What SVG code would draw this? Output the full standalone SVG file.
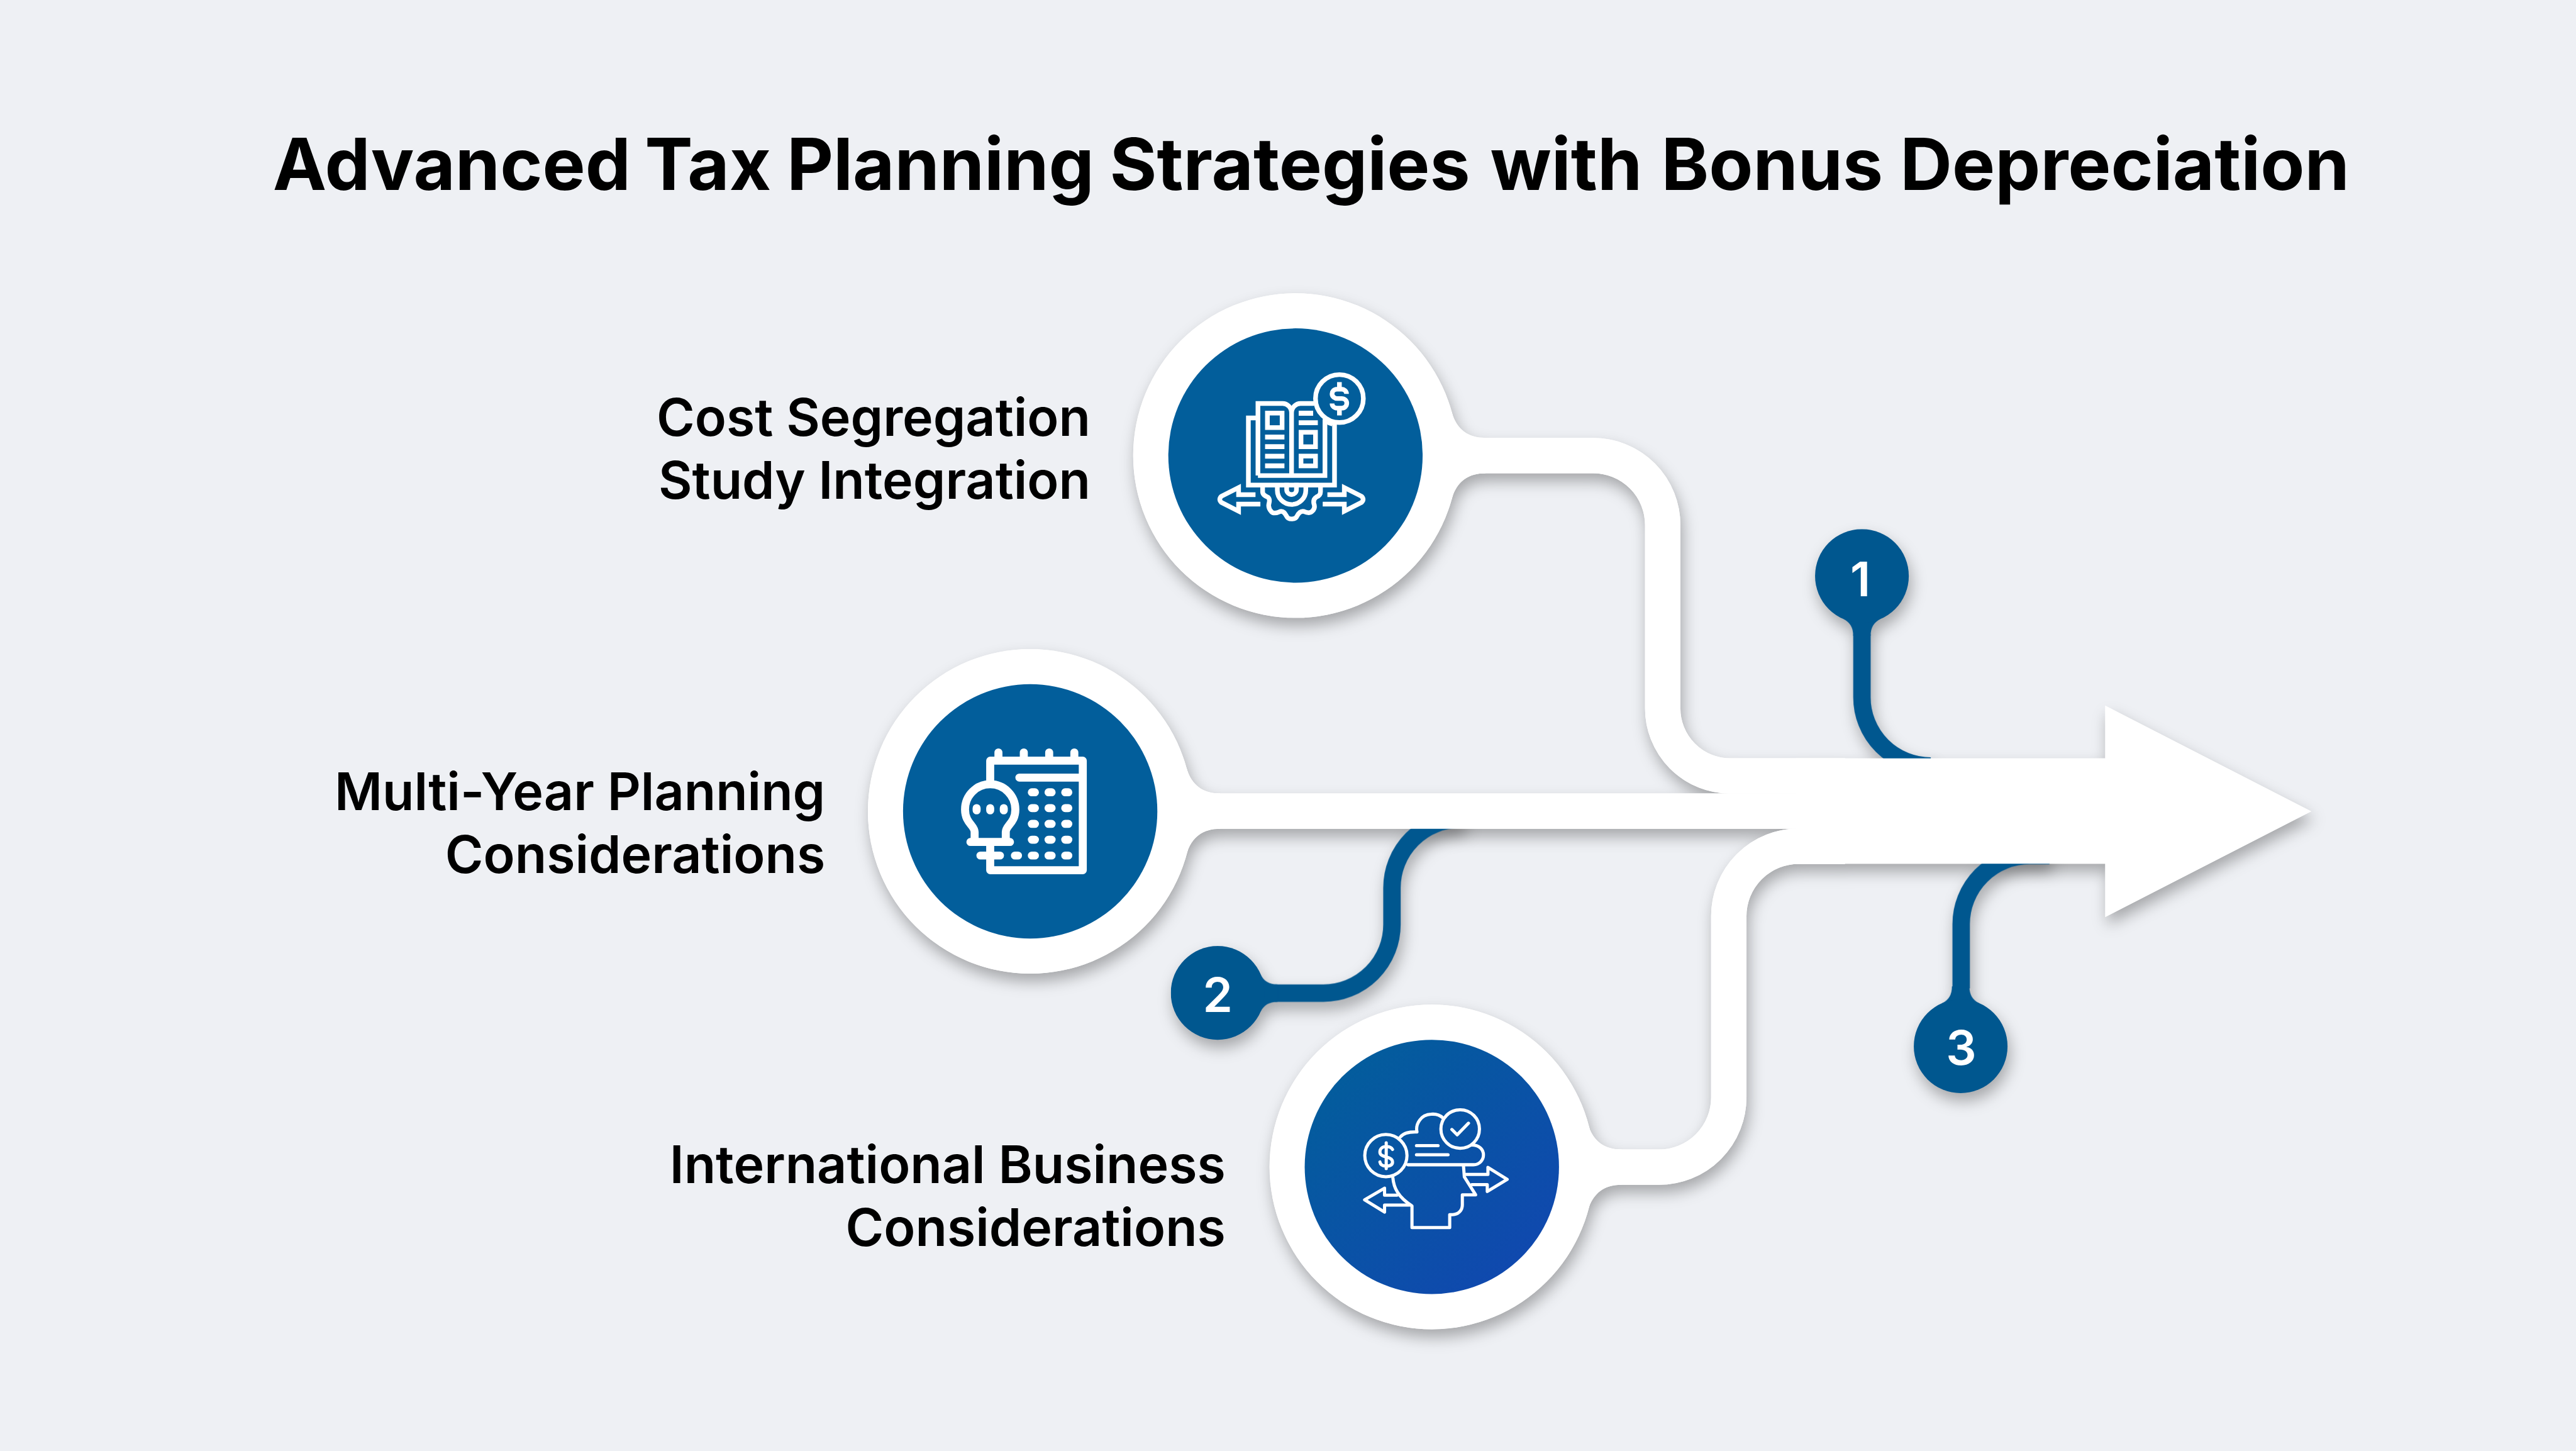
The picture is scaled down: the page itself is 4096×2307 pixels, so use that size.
<svg xmlns="http://www.w3.org/2000/svg" width="4096" height="2307" viewBox="0 0 4096 2307">
<style>
.t{font-family:Inter,"Liberation Sans",sans-serif;fill:#000}
.title{font-size:144.4px;font-weight:700}
.lab{font-size:104px;font-weight:600;text-anchor:end}
.num{font-family:Inter,"Liberation Sans",sans-serif;font-size:96px;font-weight:600;fill:#fff;text-anchor:middle}
.band{fill:none;stroke:#fff;stroke-width:71}
.w{fill:#fff}
.stem{fill:none;stroke:#00578F;stroke-width:35}
.b{fill:#00578F}
.disc{fill:#025E9B}
.ic{fill:none;stroke:#fff;stroke-width:21;stroke-linejoin:miter}
.ic2{fill:none;stroke:#fff;stroke-width:36;stroke-linecap:round;stroke-linejoin:round}
.ic3{fill:none;stroke:#fff;stroke-width:19;stroke-linecap:round;stroke-linejoin:round}
.bar{fill:#fff}
</style>
<defs>
<filter id="sh" filterUnits="userSpaceOnUse" x="0" y="0" width="5166" height="2910" color-interpolation-filters="sRGB">
<feDropShadow dx="5" dy="16" stdDeviation="15" flood-color="#000" flood-opacity="0.3"/>
</filter>
<linearGradient id="g3" x1="0.1" y1="0.05" x2="0.9" y2="0.95">
<stop offset="0" stop-color="#025E9B"/><stop offset="1" stop-color="#1147B0"/>
</linearGradient>
<path id="fil" d="M313 -88.5C323 -51.5 347 -35.5 381 -35.5V35.5C347 35.5 323 51.5 313 88.5Z"/>
<path id="sf" d="M-37 86C-24 93 -17.5 103 -17.5 120H17.5C17.5 103 24 93 37 86Z"/>
<g id="backbone">
<path class="band" d="M2598 913.5H3195A139.5 139.5 0 0 1 3334.5 1053V1420A135.5 135.5 0 0 0 3470 1556H3700"/>
<path class="band" d="M2066 1626.6H3700"/>
<path class="band" d="M3700 1697H3607A140 140 0 0 0 3467 1837V2200A140 140 0 0 1 3327 2340.5H2871"/>
<path class="w" d="M3468 1520.6H4222V1415L4635 1627L4222 1839V1732H3602V1520.6Z"/>
<use href="#fil" class="w" x="2598" y="913.5"/>
<use href="#fil" class="w" x="2066" y="1626.6"/>
<use href="#fil" class="w" x="2871" y="2340.5"/>
<circle class="w" cx="2598" cy="913.5" r="325.5"/>
<circle class="w" cx="2066" cy="1627" r="325.5"/>
<circle class="w" cx="2871.5" cy="2340" r="325.5"/>
</g>
</defs>
<rect width="4096" height="2307" fill="#EEF0F4"/>
<g transform="scale(0.792871)">
<text class="t title" x="547" y="381" id="title">Advanced <tspan dx="-6">Tax</tspan> <tspan dx="-3">Planning</tspan> <tspan dx="-3">Strategies</tspan> <tspan dx="6">with</tspan> <tspan dx="4">Bonus</tspan> Depreciation</text>
<g id="connectors">
<use href="#backbone" filter="url(#sh)"/>
<g id="step-1" filter="url(#sh)">
<path class="stem" d="M3734 1272V1398A138 138 0 0 0 3872 1536"/>
<use href="#sf" class="b" transform="translate(3734 1155)"/>
<circle class="b" cx="3734" cy="1155" r="94"/>
<text class="num" x="3731" y="1196">1</text>
</g>
<g id="step-2" filter="url(#sh)">
<path class="stem" d="M2935 1642.5H2929A137.5 137.5 0 0 0 2791.5 1780V1854A137.5 137.5 0 0 1 2654 1991.5H2556"/>
<use href="#sf" class="b" transform="translate(2442 1991.5) rotate(-90)"/>
<circle class="b" cx="2442" cy="1991" r="94"/>
<text class="num" x="2442" y="2029">2</text>
</g>
<g id="step-3" filter="url(#sh)">
<path class="stem" d="M3933 1982V1853A137.5 137.5 0 0 1 4070.5 1715.5H4110"/>
<use href="#sf" class="b" transform="translate(3932 2098) rotate(180)"/>
<circle class="b" cx="3932" cy="2098" r="94"/>
<text class="num" x="3933" y="2135">3</text>
</g>
<use href="#backbone"/>
</g>
<g id="node-1">
<circle class="disc" cx="2598" cy="913.5" r="255"/>
<g transform="translate(2300 580) scale(0.4464)">
<circle class="ic" cx="865" cy="491" r="107.5"/>
<path class="ic" d="M865 417V449M865 535V567M897 470C897 457 885 449 875 449H855C840 449 832 460 832 470C832 483 845 491 855 491H875C888 491 898 500 898 512C898 525 888 534 875 534H855C842 534 832 525 832 513"/>
<path class="ic" d="M499 578H456V880H843V603M810 596Q820 603 833 605"/>
<path class="ic" d="M499 837V513H610C630 513 650 530 650 555V837M650 555C650 530 670 513 690 513H752M800 583V837H499"/>
<rect class="ic" x="541.500" y="556.500" width="66" height="65"/>
<rect class="ic" x="692.500" y="642.500" width="65" height="65"/>
<rect class="ic" x="692.500" y="749.500" width="65" height="44"/>
<path class="bar" d="M531 653h87v22h-87zM531 696h87v22h-87zM531 739h87v22h-87zM531 782h87v22h-87zM682 546h65v22h-65zM682 589h86v22h-86z"/>
<path class="ic" d="M520 890V910C520 925 535 930 545 935C555 945 550 955 548 965C545 980 550 990 560 1000C570 1010 585 1005 600 998C615 995 622 1010 628 1020C632 1030 640 1032 650 1032C660 1032 670 1030 674 1020C680 1008 690 995 705 998C720 1005 735 1008 745 995C755 985 755 975 750 962C748 950 750 940 762 933C775 928 780 920 780 910V890"/>
<path class="ic" d="M586 890V903A64 64 0 0 0 714 903V890M628 870V900A22 22 0 0 0 672 900V870"/>
<path class="ic" d="M488 923H412V891L335 930Q320 944 335 958L412 997V965H510M811 923H887V891L964 930Q979 944 964 958L887 997V965H790"/>
</g>
<text class="t lab" x="2187" y="874">Cost Segregation</text>
<text class="t lab" x="2187" y="1000">Study Integration</text>
</g>
<g id="node-2">
<circle class="disc" cx="2066" cy="1627" r="255"/>
<g transform="translate(1780 1300) scale(0.4464)">
<path class="ic2" d="M461 595V505H877V997H461V880M498 468V505M612 468V505M726 468V505M839 468V505M592 581H877"/>
<path class="ic2" d="M391 860V825C391 795 348 785 348 724A113 113 0 0 1 574 724C574 785 531 795 531 825V860M372 870H550M417 931H505"/>
<path class="ic2" d="M400 718V728M461 718V728M522 718V728"/>
<path class="ic2" stroke-width="38" d="M648 647H662M723 647H737M798 647H812M648 718H662M723 718H737M798 718H812M648 789H662M723 789H737M798 789H812M648 860H662M723 860H737M798 860H812M572 931H586M648 931H662M723 931H737M798 931H812"/>
</g>
<text class="t lab" x="1655" y="1625">Multi-Year Planning</text>
<text class="t lab" x="1655" y="1751">Considerations</text>
</g>
<g id="node-3">
<circle cx="2871.500" cy="2340" r="255" fill="url(#g3)"/>
<g transform="translate(2710 2190) scale(0.3333)">
<circle class="ic3" cx="208" cy="382" r="127"/>
<circle class="ic3" cx="655" cy="222" r="116"/>
<path class="ic3" d="M605 225L637 257L705 187M210 305V460M248 345C240 330 225 328 210 328C185 328 172 342 172 360C172 380 190 385 210 390C232 395 248 402 248 420C248 440 230 445 210 445C190 445 175 438 172 420"/>
<path class="ic3" d="M295 270C315 245 345 238 395 240C385 190 420 135 480 133C510 130 535 140 550 155M725 318C770 318 795 345 795 378C795 410 770 437 735 437H340M392 322H522M392 377H582"/>
<path class="ic3" d="M250 515C255 575 280 630 365 685V815H592V737H610C645 737 668 710 668 680V618H748L680 510L675 445"/>
<path class="ic3" d="M690 495H822V453L938 525L818 598V557H725M275 620H200V578L80 648L200 722V680H350"/>
</g>
<text class="t lab" x="2458" y="2373">International Business</text>
<text class="t lab" x="2458" y="2499">Considerations</text>
</g>
</g>
</svg>
